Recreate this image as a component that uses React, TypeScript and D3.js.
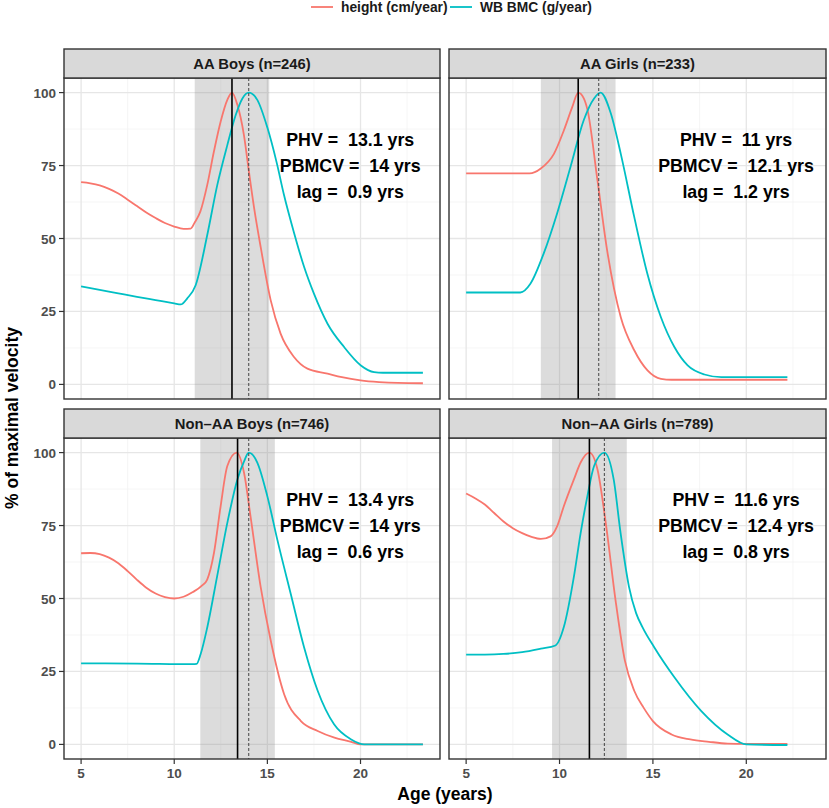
import React from 'react';
import * as d3 from 'd3';

// panel facts
const panelTitles = ['AA Boys (n=246)', 'AA Girls (n=233)', 'Non\u2013AA Boys (n=746)', 'Non\u2013AA Girls (n=789)'];
const phvAges = [13.1, 11, 13.4, 11.6];
const pbmcvAges = [14, 12.1, 14, 12.4];
const lagYears = [0.9, 1.2, 0.6, 0.8];

const xTicks = [5, 10, 15, 20];
const xMinor = [7.5, 12.5, 17.5, 22.5];
const yTicks = [0, 25, 50, 75, 100];
const yMinor = [12.5, 37.5, 62.5, 87.5];

const seriesNames = ['height (cm/year)', 'WB BMC (g/year)'];
const seriesColors = ['#F8766D', '#00BFC4'];

// [age, % of maximal velocity]
const aaBoysHeight: [number, number][] = [
  [5, 69.3], [5.5, 68.9], [6, 68.2], [6.5, 67], [7, 65.4], [7.5, 63.3], [8, 61.1], [8.5, 58.9], [9, 57],
  [9.5, 55.3], [10, 54.1], [10.5, 53.3], [10.88, 53.4], [11.1, 55.5],
  [11.4, 59.2], [11.77, 68.3], [12.13, 79.8], [12.49, 90], [12.85, 97.5], [13.1, 100], [13.39, 95.8],
  [13.74, 85.5], [14.01, 72.9], [14.3, 60], [14.64, 47.1], [15.18, 28.8], [15.71, 17.4], [16.43, 9.4],
  [17.15, 5.4], [18.23, 3.7], [19, 2.5], [20, 1.4], [21, 0.8], [22, 0.5], [23.35, 0.4],
];
const aaBoysBmc: [number, number][] = [
  [5, 33.6], [6, 32.4], [7, 31.2], [8, 30], [9, 28.9], [10, 27.8], [10.35, 27.4], [10.7, 29.5], [11.15, 34],
  [11.77, 51.1], [12.31, 68.3], [12.85, 82], [13.3, 92.3], [13.66, 98], [14, 100], [14.46, 97.5], [15, 88],
  [15.5, 76], [15.89, 65], [16.43, 52], [16.97, 40.3], [17.5, 31.1], [18.23, 20.8], [19.12, 12.8],
  [20.02, 6.5], [20.73, 4.2], [21.2, 4], [23.35, 4],
];
const aaGirlsHeight: [number, number][] = [
  [5, 72.3], [6.5, 72.3], [8.4, 72.3], [9, 74], [9.7, 79], [10.23, 87], [10.68, 95], [11, 100], [11.3, 98],
  [11.5, 94], [12.03, 70], [12.56, 45.5], [13.28, 23], [14, 11.7], [14.71, 4.8], [15.43, 1.9], [16, 1.6],
  [19, 1.6], [22.2, 1.6],
];
const aaGirlsBmc: [number, number][] = [
  [5, 31.5], [6.5, 31.5], [7.9, 31.5], [8.44, 34.5], [9.16, 45], [9.87, 58.6], [10.59, 74.6], [11.3, 90.6],
  [11.85, 98], [12.2, 100], [12.74, 93], [13.28, 79], [14, 57.4], [14.7, 38], [15.43, 23], [16.15, 12.8],
  [16.86, 6.5], [17.76, 3.4], [18.66, 2.5], [20, 2.5], [22.2, 2.5],
];
const nonAaBoysHeight: [number, number][] = [
  [5, 65.5], [5.5, 65.6], [6, 65.2], [6.5, 64], [7, 62.1], [7.5, 59.4], [8, 56.4], [8.5, 53.7], [9, 51.7],
  [9.5, 50.5], [10, 50], [10.5, 50.6], [11, 52.2], [11.5, 54.5], [11.77, 56.5],
  [12.13, 65.5], [12.49, 81.6], [12.85, 95.4], [13.35, 100], [13.75, 93], [14.1, 78], [14.64, 54],
  [15.18, 35.6], [15.9, 17.2], [16.8, 8], [17.7, 4.6], [18.6, 2.3], [19.5, 0.9], [20, 0], [21.5, 0], [23.35, 0],
];
const nonAaBoysBmc: [number, number][] = [
  [5, 27.8], [8, 27.7], [11, 27.5], [11.2, 27.6], [11.42, 31], [11.77, 40], [12.3, 57.5], [12.85, 75.9],
  [13.39, 90.8], [13.75, 97], [14, 100], [14.46, 96.6], [15, 85], [15.54, 70], [16.25, 51.7], [16.97, 33.3],
  [17.7, 18.4], [18.58, 6.9], [19.5, 1.7], [20.2, 0], [21.5, 0], [23.35, 0],
];
const nonAaGirlsHeight: [number, number][] = [
  [5, 86], [5.5, 84.3], [6, 82.2], [6.5, 79.3], [7, 76.4], [7.5, 74.1], [8, 72.4], [8.5, 71.1], [9, 70.4],
  [9.52, 71.3], [9.87, 74.7], [10.23, 81.6],
  [10.77, 90.8], [11.13, 96.6], [11.6, 100], [12.03, 94.3], [12.5, 74.7], [13, 49.4], [13.5, 28.7],
  [14, 18.4], [14.5, 12.6], [15, 8], [16, 3.4], [17, 1.7], [18, 0.9], [19, 0.3], [20, 0.2], [22.2, 0.2],
];
const nonAaGirlsBmc: [number, number][] = [
  [5, 30.8], [6, 30.8], [7, 31], [8, 31.6], [9, 32.8], [9.78, 33.9], [10.23, 40.2], [10.77, 57.5],
  [11.13, 72.4], [11.49, 85], [11.85, 95.4], [12.4, 100], [12.9, 90.8], [13.27, 72.4], [13.72, 54],
  [14.1, 45], [14.44, 40.2], [15.07, 33.3], [16.15, 23], [17.58, 11.5], [19, 3.4], [20, 0], [22.2, -0.2],
];

const heightSeries = [aaBoysHeight, aaGirlsHeight, nonAaBoysHeight, nonAaGirlsHeight];
const bmcSeries = [aaBoysBmc, aaGirlsBmc, nonAaBoysBmc, nonAaGirlsBmc];

const W = 829;
const H = 808;
const colX = [[64, 440], [449, 826]];
const rowY = [{ strip: 49, top: 78, bottom: 399 }, { strip: 409, top: 438, bottom: 759 }];
const FONT = '"Liberation Sans", Arial, Helvetica, sans-serif';
const BORDER = '#333333';

const allAges = heightSeries.concat(bmcSeries).flat().map(d => d[0]);
const [ageMin, ageMax] = d3.extent(allAges) as [number, number];
const pad = (ageMax - ageMin) * 0.05;

const Panel: React.FC<{ i: number }> = ({ i }) => {
  const col = i % 2;
  const row = Math.floor(i / 2);
  const [x0, x1] = colX[col];
  const { strip, top, bottom } = rowY[row];
  const x = d3.scaleLinear().domain([ageMin - pad, ageMax + pad]).range([x0, x1]);
  const y = d3.scaleLinear().domain([-5, 105]).range([bottom, top]);
  const line = d3.line<[number, number]>().x(d => x(d[0])).y(d => y(d[1])).curve(d3.curveMonotoneX);
  const phv = phvAges[i];
  const labels = [`PHV =  ${phv} yrs`, `PBMCV =  ${pbmcvAges[i]} yrs`, `lag =  ${lagYears[i]} yrs`];
  const tx = x(19.45);
  const ty = y(75);
  return (
    <g>
      <rect x={x0} y={top} width={x1 - x0} height={bottom - top} fill="#fff" />
      {xMinor.map(v => (
        <line key={'xm' + v} x1={x(v)} x2={x(v)} y1={top} y2={bottom} stroke="#f0f0f0" strokeWidth={0.7} />
      ))}
      {yMinor.map(v => (
        <line key={'ym' + v} x1={x0} x2={x1} y1={y(v)} y2={y(v)} stroke="#f0f0f0" strokeWidth={0.7} />
      ))}
      {xTicks.map(v => (
        <line key={'xg' + v} x1={x(v)} x2={x(v)} y1={top} y2={bottom} stroke="#e6e6e6" strokeWidth={1.3} />
      ))}
      {yTicks.map(v => (
        <line key={'yg' + v} x1={x0} x2={x1} y1={y(v)} y2={y(v)} stroke="#e6e6e6" strokeWidth={1.3} />
      ))}
      <rect x={x(phv - 2)} y={top} width={x(phv + 2) - x(phv - 2)} height={bottom - top} fill="#808080" opacity={0.28} />
      {[heightSeries[i], bmcSeries[i]].map((s, k) => (
        <path key={k} d={line(s) || ''} fill="none" stroke={seriesColors[k]} strokeWidth={1.8} />
      ))}
      <line x1={x(phv)} x2={x(phv)} y1={top} y2={bottom} stroke="#000" strokeWidth={1.6} />
      <line x1={x(pbmcvAges[i])} x2={x(pbmcvAges[i])} y1={top} y2={bottom} stroke="#444" strokeWidth={1} strokeDasharray="3,2" />
      {labels.map((t, k) => (
        <text key={k} x={tx} y={ty + (k - 1) * 26 + 6} textAnchor="middle" fontFamily={FONT} fontWeight="bold"
          fontSize={17.8} fill="#000" style={{ whiteSpace: 'pre' }}>{t}</text>
      ))}
      <rect x={x0} y={top} width={x1 - x0} height={bottom - top} fill="none" stroke={BORDER} strokeWidth={1.4} />
      <rect x={x0} y={strip} width={x1 - x0} height={top - strip} fill="#d9d9d9" stroke={BORDER} strokeWidth={1.4} />
      <text x={(x0 + x1) / 2} y={(strip + top) / 2 + 5} textAnchor="middle" fontFamily={FONT} fontWeight="bold"
        fontSize={14.8} fill="#1a1a1a">{panelTitles[i]}</text>
      {col === 0 && yTicks.map(v => (
        <g key={'yt' + v}>
          <line x1={x0 - 5} x2={x0} y1={y(v)} y2={y(v)} stroke={BORDER} strokeWidth={1.2} />
          <text x={x0 - 8} y={y(v) + 5} textAnchor="end" fontFamily={FONT} fontWeight="bold" fontSize={13.5}
            fill="#4d4d4d">{v}</text>
        </g>
      ))}
      {row === 1 && xTicks.map(v => (
        <g key={'xt' + v}>
          <line x1={x(v)} x2={x(v)} y1={bottom} y2={bottom + 5} stroke={BORDER} strokeWidth={1.2} />
          <text x={x(v)} y={bottom + 19} textAnchor="middle" fontFamily={FONT} fontWeight="bold" fontSize={13.5}
            fill="#4d4d4d">{v}</text>
        </g>
      ))}
    </g>
  );
};

export default function App() {
  const legendX = [311, 450];
  return (
    <svg width={W} height={H} viewBox={`0 0 ${W} ${H}`}
      style={{ position: 'absolute', left: 0, top: 0, background: '#fff', display: 'block' }}>
      <rect width={W} height={H} fill="#fff" />
      {seriesNames.map((name, k) => (
        <g key={name}>
          <line x1={legendX[k]} x2={legendX[k] + 22} y1={7} y2={7} stroke={seriesColors[k]} strokeWidth={1.8} />
          <text x={legendX[k] + 30} y={12} fontFamily={FONT} fontWeight="bold" fontSize={13.8} fill="#1a1a1a">{name}</text>
        </g>
      ))}
      {panelTitles.map((_, i) => <Panel key={i} i={i} />)}
      <text transform="translate(18,418) rotate(-90)" textAnchor="middle" fontFamily={FONT} fontWeight="bold"
        fontSize={17.5} fill="#000">% of maximal velocity</text>
      <text x={445} y={800} textAnchor="middle" fontFamily={FONT} fontWeight="bold" fontSize={17.5} fill="#000">Age (years)</text>
    </svg>
  );
}
